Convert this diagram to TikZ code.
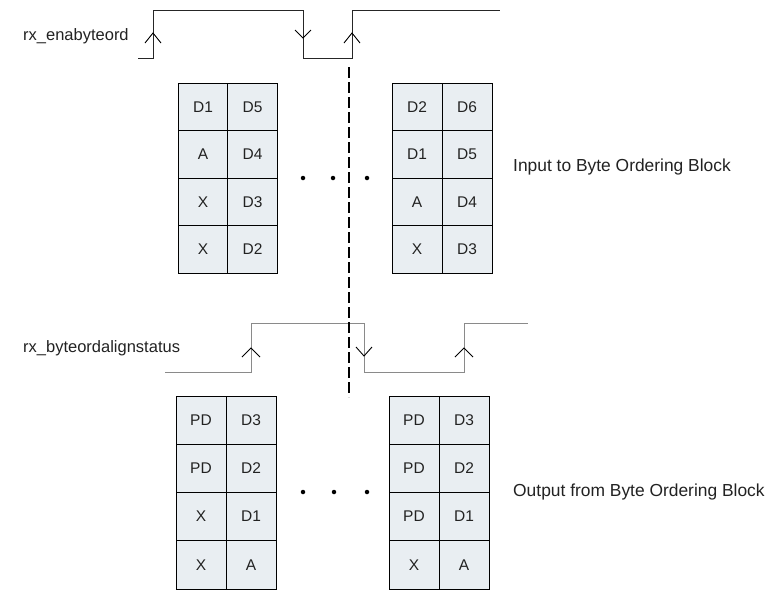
\documentclass[tikz,border=0pt]{standalone}
\usepackage{fontspec}
\setmainfont{Liberation Sans}
\definecolor{cellfill}{HTML}{E9EEF2}
\definecolor{txt}{HTML}{222222}
\definecolor{wavegrey}{HTML}{8A8A8A}
\begin{document}
\begin{tikzpicture}[x=1pt,y=-1pt,
  cell/.style={draw=black,line width=0.9pt,fill=cellfill,minimum width=50pt,minimum height=48pt,inner sep=0pt,font=\fontsize{15.5}{17}\selectfont,text=txt},
  lbl/.style={anchor=west,inner sep=0pt,font=\fontsize{16.5}{18}\selectfont,text=txt},
  lblr/.style={lbl,font=\fontsize{17.4}{19}\selectfont},
  wave/.style={line width=1pt,draw=black!85},
  wave2/.style={line width=1pt,draw=wavegrey},
  chev/.style={line width=0.9pt,draw=black},
  dotc/.style={fill=black,circle,inner sep=0pt,minimum size=4.5pt}]
\useasboundingbox (0,0) rectangle (774,606);
% labels
\node[lbl] (l1) at (23,36) {rx\_enabyteord};
\node[lbl] (l2) at (23,348) {rx\_byteordalignstatus};
\node[lblr] (l3) at (513,167) {Input to Byte Ordering Block};
\node[lblr] (l4) at (513,492) {Output from Byte Ordering Block};
% top waveform
\draw[wave] (138,58) -- (153,58) -- (153,10) -- (303,10) -- (303,58) -- (352,58) -- (352,10) -- (500,10);
\draw[chev] (145,43) -- (153,33) -- (161,43);
\draw[chev] (344,43) -- (352,33) -- (360,43);
\draw[chev] (295,30) -- (303,38) -- (311,30);
% bottom waveform
\draw[wave2] (165,372) -- (251,372) -- (251,323) -- (364,323) -- (364,372) -- (464,372) -- (464,323) -- (528,323);
\draw[chev] (242,357) -- (251,348) -- (260,357);
\draw[chev] (455,357) -- (464,348) -- (473,357);
\draw[chev] (356,347) -- (364,356) -- (372,347);
% dashed divider
\coordinate (dtop) at (349,67);
\coordinate (dbot) at (349,397);
\draw[line width=2.8pt,dash pattern=on 10.5pt off 4.5pt] (dtop) -- (dbot);
% top-left block
\foreach \r/\a/\b [count=\i] in {0/D1/D5,1/A/D4,2/X/D3,3/X/D2}{
  \node[cell,minimum width=49.5pt,minimum height=47.5pt] (tla\i) at (203,106.75+47.5*\r) {\a};
  \node[cell,minimum width=49.5pt,minimum height=47.5pt] (tlb\i) at (252.5,106.75+47.5*\r) {\b};
}
% top-right block
\foreach \r/\a/\b [count=\i] in {0/D2/D6,1/D1/D5,2/A/D4,3/X/D3}{
  \node[cell,minimum width=50pt,minimum height=47.5pt] (tra\i) at (417,106.75+47.5*\r) {\a};
  \node[cell,minimum width=50pt,minimum height=47.5pt] (trb\i) at (467,106.75+47.5*\r) {\b};
}
% bottom-left block
\foreach \r/\a/\b [count=\i] in {0/PD/D3,1/PD/D2,2/X/D1,3/X/A}{
  \node[cell,minimum height=48.25pt] (bla\i) at (201,420.1+48.25*\r) {\a};
  \node[cell,minimum height=48.25pt] (blb\i) at (251,420.1+48.25*\r) {\b};
}
% bottom-right block
\foreach \r/\a/\b [count=\i] in {0/PD/D3,1/PD/D2,2/PD/D1,3/X/A}{
  \node[cell,minimum height=48.25pt] (bra\i) at (414,420.1+48.25*\r) {\a};
  \node[cell,minimum height=48.25pt] (brb\i) at (464,420.1+48.25*\r) {\b};
}
% ellipsis dots
\node[dotc] (td1) at (303,178) {};
\node[dotc] (td2) at (333,178) {};
\node[dotc] (td3) at (367,178) {};
\node[dotc] (bd1) at (303,492) {};
\node[dotc] (bd2) at (334,492) {};
\node[dotc] (bd3) at (367,492) {};
\end{tikzpicture}
\end{document}
